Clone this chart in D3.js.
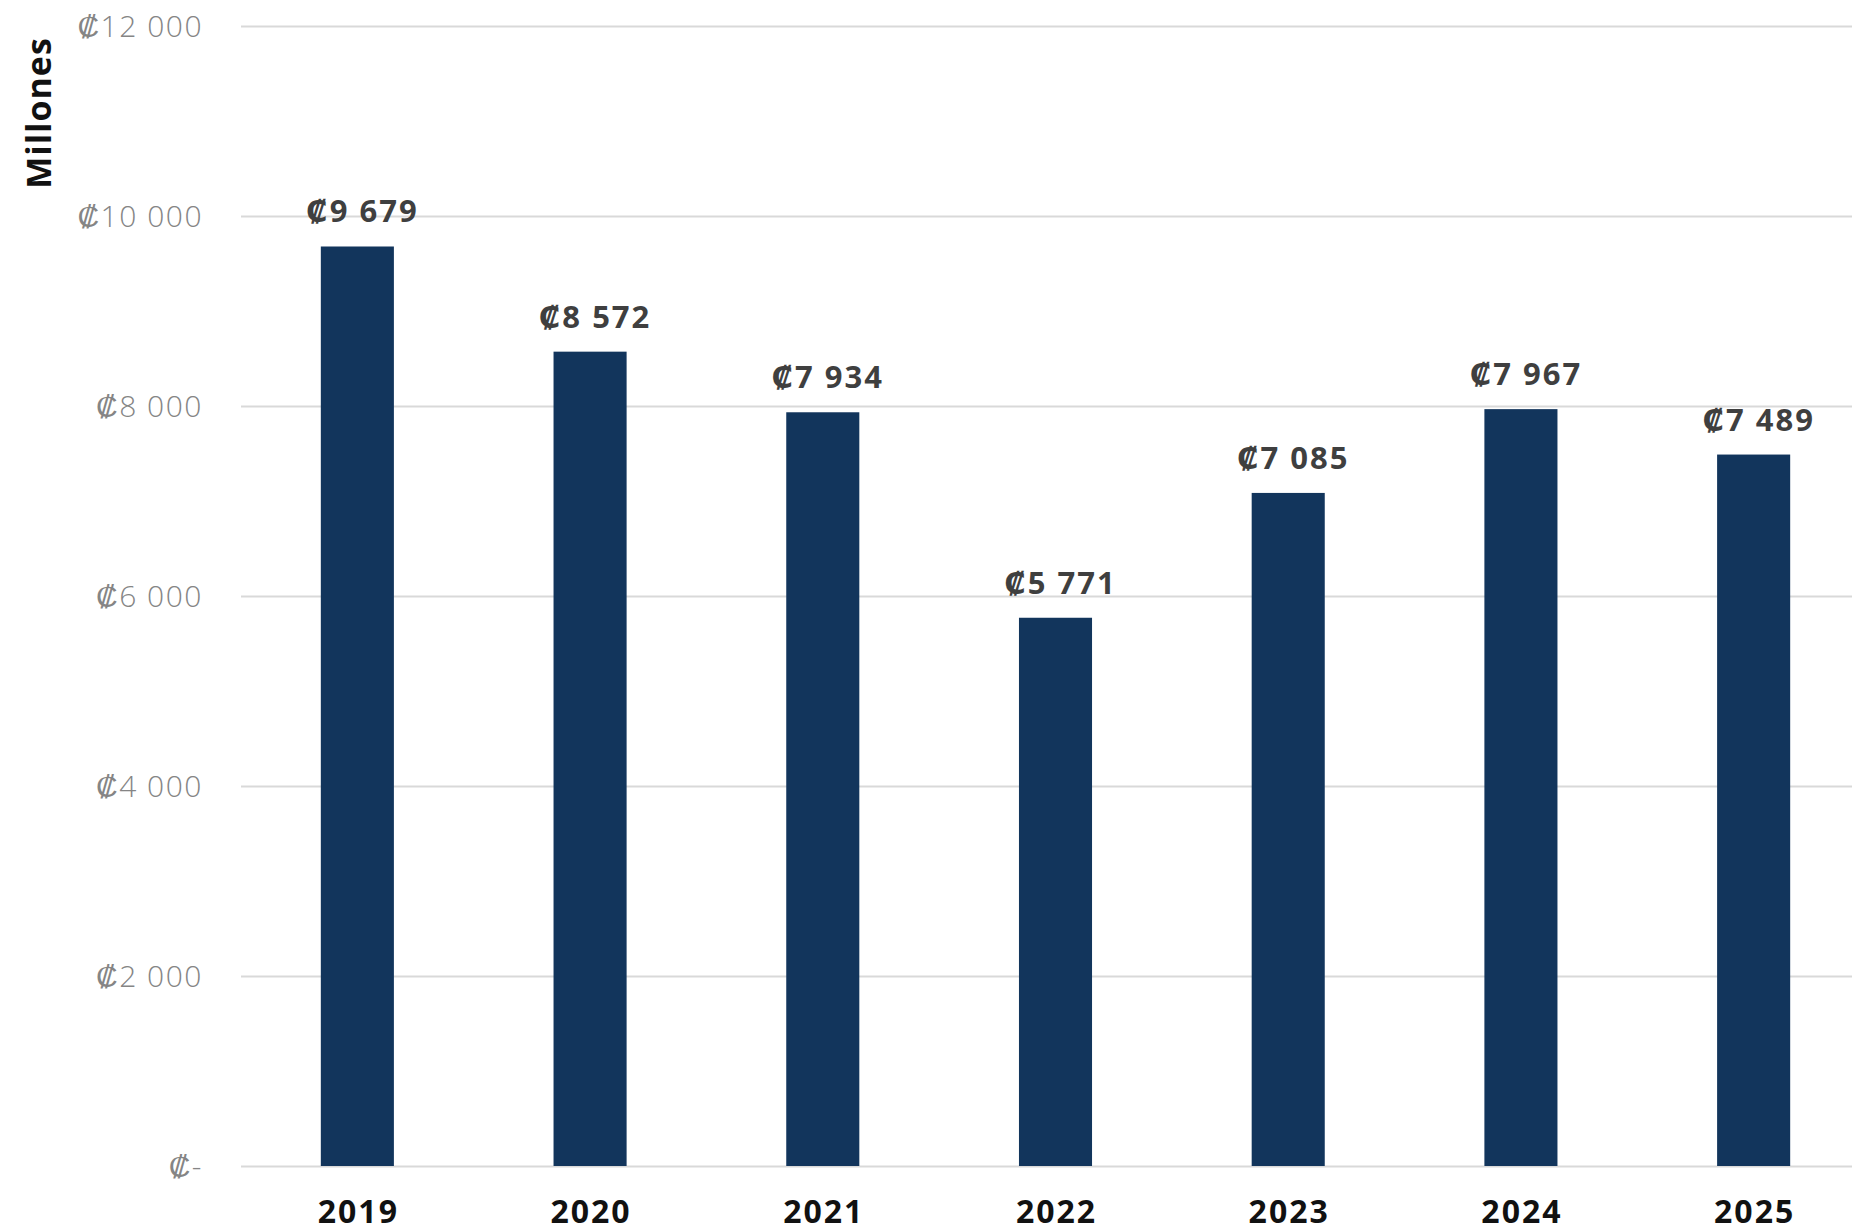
<!DOCTYPE html>
<html lang="es">
<head>
    <meta charset="UTF-8">
    <title>Millones por año</title>
    <script src="https://d3js.org/d3.v7.min.js"></script>
    <style>
        body { margin: 0; background: #fff; }
        .tick-y text {
            font-family: "Open Sans", "DejaVu Sans", sans-serif;
            font-weight: 300;
            font-size: 30px;
            letter-spacing: 1.5px;
            fill: #858585;
        }
        .year {
            font-family: "Open Sans", "DejaVu Sans", sans-serif;
            font-weight: 700;
            font-size: 32px;
            letter-spacing: 2px;
            fill: #111;
        }
        .valor {
            font-family: "Open Sans", "DejaVu Sans", sans-serif;
            font-weight: 700;
            font-size: 31px;
            letter-spacing: 2px;
            fill: #3f3f3f;
        }
    </style>
</head>
<body>
    <svg width="1852" height="1229"></svg>

    <script>
        // datos
        const anios = ["2019", "2020", "2021", "2022", "2023", "2024", "2025"];
        const valores = [9679, 8572, 7934, 5771, 7085, 7967, 7489];
        const ticksY = [0, 2000, 4000, 6000, 8000, 10000, 12000];

        const width = 1852;
        const height = 1229;

        const svg = d3.select("svg")
            .attr("width", width)
            .attr("height", height);

        const x = d3.scaleBand()
            .domain(anios)
            .range([241, 1870])
            .paddingInner(0.686)
            .paddingOuter(0.343);

        const y = d3.scaleLinear()
            .domain([0, 12000])
            .range([1166, 26]);

        const fmt = v => v === 0 ? "₡-" : "₡" + d3.format(",")(v).replace(/,/g, " ");

        // eje y con lineas de cuadricula
        const yAxis = d3.axisLeft(y)
            .tickValues(ticksY)
            .tickSize(-(width - 241))
            .tickPadding(38)
            .tickFormat(fmt);

        const gy = svg.append("g")
            .attr("class", "tick-y")
            .attr("transform", "translate(241,0)")
            .call(yAxis);
        gy.select(".domain").remove();
        gy.selectAll(".tick line")
            .attr("stroke", "#d9d9d9")
            .attr("stroke-width", 2);
        gy.selectAll(".tick text").attr("dy", "0.36em");

        // barras
        svg.selectAll(".bar")
            .data(valores)
            .enter().append("rect")
            .attr("class", "bar")
            .attr("x", (d, i) => x(anios[i]))
            .attr("y", d => y(d))
            .attr("width", x.bandwidth())
            .attr("height", d => y(0) - y(d))
            .attr("fill", "#12355c");

        // etiquetas de valor
        svg.selectAll(".valor")
            .data(valores)
            .enter().append("text")
            .attr("class", "valor")
            .attr("x", (d, i) => x(anios[i]) + x.bandwidth() / 2 + 5)
            .attr("y", d => y(d) - 24)
            .attr("text-anchor", "middle")
            .text(d => fmt(d));

        // etiquetas de año
        svg.selectAll(".year")
            .data(anios)
            .enter().append("text")
            .attr("class", "year")
            .attr("x", d => x(d) + x.bandwidth() / 2 + 1)
            .attr("y", 1223)
            .attr("text-anchor", "middle")
            .text(d => d);

        // titulo del eje
        svg.append("text")
            .attr("transform", "rotate(-90)")
            .attr("x", -113)
            .attr("y", 51)
            .attr("text-anchor", "middle")
            .style("font-family", "'Open Sans', 'DejaVu Sans', sans-serif")
            .style("font-weight", 700)
            .style("font-size", "34px")
            .style("letter-spacing", "1px")
            .style("fill", "#111")
            .text("Millones");
    </script>
</body>
</html>
